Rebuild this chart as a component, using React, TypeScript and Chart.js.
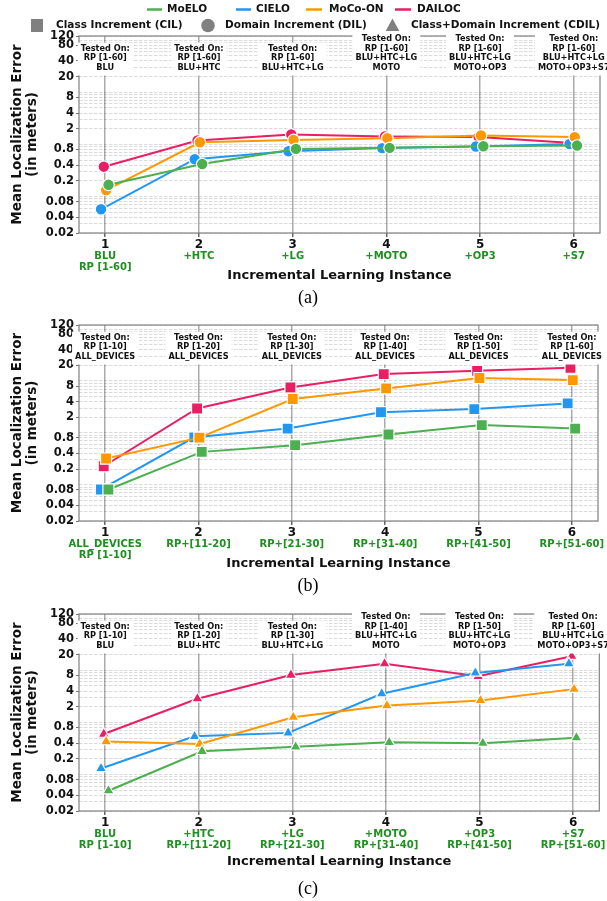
import React, { useEffect, useRef } from 'react';
import { Chart, registerables } from 'chart.js';

Chart.register(...registerables);

const FONT = "'DejaVu Sans', 'Liberation Sans', sans-serif";

// ---------- shared categories / ticks ----------
const instances = [1, 2, 3, 4, 5, 6];
const seriesNames = ['MoELO', 'CIELO', 'MoCo-ON', 'DAILOC'];
const seriesColors = ['#4CAF50', '#2196F3', '#FF9800', '#E91E63'];
const seriesDodge = [0.035, -0.045, 0.01, -0.015];
const drawOrder = [0, 2, 1, 3]; // first one is drawn on top
const incrementTypes = ['Class Increment (CIL)', 'Domain Increment (DIL)', 'Class+Domain Increment (CDIL)'];
const yGridValues = [
  0.02, 0.03, 0.04, 0.05, 0.06, 0.07, 0.08, 0.09,
  0.1, 0.2, 0.3, 0.4, 0.5, 0.6, 0.7, 0.8, 0.9,
  1, 2, 3, 4, 5, 6, 7, 8, 9,
  10, 20, 30, 40, 50, 60, 70, 80, 90, 100, 120,
];
const yTickLabels = [0.02, 0.04, 0.08, 0.2, 0.4, 0.8, 2, 4, 8, 20, 40, 80, 120];

// ---------- (a) Domain Increment ----------
const moeloA = [0.168, 0.42, 0.82, 0.86, 0.92, 0.95];
const cieloA = [0.057, 0.52, 0.74, 0.85, 0.91, 1.02];
const mocoA = [0.133, 1.1, 1.22, 1.32, 1.48, 1.38];
const dailocA = [0.374, 1.19, 1.55, 1.42, 1.38, 1.07];
const xLabelsA = ['BLU\nRP [1-60]', '+HTC', '+LG', '+MOTO', '+OP3', '+S7'];
const testedA = [
  'Tested On:\nRP [1-60]\nBLU',
  'Tested On:\nRP [1-60]\nBLU+HTC',
  'Tested On:\nRP [1-60]\nBLU+HTC+LG',
  'Tested On:\nRP [1-60]\nBLU+HTC+LG\nMOTO',
  'Tested On:\nRP [1-60]\nBLU+HTC+LG\nMOTO+OP3',
  'Tested On:\nRP [1-60]\nBLU+HTC+LG\nMOTO+OP3+S7',
];

// ---------- (b) Class Increment ----------
const moeloB = [0.081, 0.43, 0.58, 0.93, 1.41, 1.21];
const cieloB = [0.081, 0.82, 1.21, 2.5, 2.87, 3.7];
const mocoB = [0.32, 0.81, 4.5, 7.2, 11.4, 10.4];
const dailocB = [0.227, 2.95, 7.5, 13.6, 15.7, 18];
const xLabelsB = ['ALL_DEVICES\nRP [1-10]', 'RP+[11-20]', 'RP+[21-30]', 'RP+[31-40]', 'RP+[41-50]', 'RP+[51-60]'];
const testedB = [
  'Tested On:\nRP [1-10]\nALL_DEVICES',
  'Tested On:\nRP [1-20]\nALL_DEVICES',
  'Tested On:\nRP [1-30]\nALL_DEVICES',
  'Tested On:\nRP [1-40]\nALL_DEVICES',
  'Tested On:\nRP [1-50]\nALL_DEVICES',
  'Tested On:\nRP [1-60]\nALL_DEVICES',
];

// ---------- (c) Class+Domain Increment ----------
const moeloC = [0.049, 0.28, 0.34, 0.415, 0.4, 0.51];
const cieloC = [0.131, 0.54, 0.63, 3.55, 8.9, 13.4];
const mocoC = [0.43, 0.385, 1.26, 2.1, 2.64, 4.35];
const dailocC = [0.6, 2.85, 8.1, 13.4, 7.65, 18.6];
const xLabelsC = ['BLU\nRP [1-10]', '+HTC\nRP+[11-20]', '+LG\nRP+[21-30]', '+MOTO\nRP+[31-40]', '+OP3\nRP+[41-50]', '+S7\nRP+[51-60]'];
const testedC = [
  'Tested On:\nRP [1-10]\nBLU',
  'Tested On:\nRP [1-20]\nBLU+HTC',
  'Tested On:\nRP [1-30]\nBLU+HTC+LG',
  'Tested On:\nRP [1-40]\nBLU+HTC+LG\nMOTO',
  'Tested On:\nRP [1-50]\nBLU+HTC+LG\nMOTO+OP3',
  'Tested On:\nRP [1-60]\nBLU+HTC+LG\nMOTO+OP3+S7',
];

type PanelDef = {
  top: number; height: number; padTop: number; padBottom: number; axisH: number;
  titlePad: number; captionY: number; caption: string;
  pointStyle: string; radius: number;
  values: number[][]; green: string[]; tested: string[]; legend: boolean;
};

const PANELS: PanelDef[] = [
  { top: 0, height: 310, padTop: 36, padBottom: 20, axisH: 57, titlePad: 6.5, captionY: 298, caption: '(a)',
    pointStyle: 'circle', radius: 5.8, values: [moeloA, cieloA, mocoA, dailocA], green: xLabelsA, tested: testedA, legend: true },
  { top: 310, height: 288, padTop: 15, padBottom: 20, axisH: 57, titlePad: 6.9, captionY: 276, caption: '(b)',
    pointStyle: 'rect', radius: 7.8, values: [moeloB, cieloB, mocoB, dailocB], green: xLabelsB, tested: testedB, legend: false },
  { top: 598, height: 303, padTop: 16, padBottom: 24, axisH: 66, titlePad: 7.2, captionY: 291, caption: '(c)',
    pointStyle: 'triangle', radius: 6.5, values: [moeloC, cieloC, mocoC, dailocC], green: xLabelsC, tested: testedC, legend: false },
];

function drawLegend(ctx: CanvasRenderingContext2D) {
  ctx.font = `bold 10.5px ${FONT}`;
  ctx.textAlign = 'left';
  ctx.textBaseline = 'middle';
  const linePos = [[147, 162, 167], [236, 251, 256], [306, 322, 329], [395, 411, 417]];
  linePos.forEach(([x0, x1, tx], i) => {
    ctx.strokeStyle = seriesColors[i];
    ctx.lineWidth = 2.5;
    ctx.beginPath();
    ctx.moveTo(x0, 9.5);
    ctx.lineTo(x1, 9.5);
    ctx.stroke();
    ctx.fillStyle = '#111';
    ctx.fillText(seriesNames[i], tx, 9.5);
  });
  const y = 25.5;
  ctx.fillStyle = '#808080';
  ctx.fillRect(31, y - 6.5, 12, 13);
  ctx.beginPath();
  ctx.arc(208, y, 6.8, 0, Math.PI * 2);
  ctx.fill();
  ctx.beginPath();
  ctx.moveTo(392.5, y - 7);
  ctx.lineTo(399.3, y + 5.5);
  ctx.lineTo(385.7, y + 5.5);
  ctx.closePath();
  ctx.fill();
  ctx.fillStyle = '#111';
  ctx.fillText(incrementTypes[0], 56, y);
  ctx.fillText(incrementTypes[1], 225, y);
  ctx.fillText(incrementTypes[2], 411, y);
}

function decorPlugin(p: PanelDef) {
  return {
    id: 'decor',
    beforeDatasetsDraw(chart: any) {
      const { ctx, chartArea: a } = chart;
      ctx.save();
      ctx.strokeStyle = '#808080';
      ctx.lineWidth = 1.2;
      ctx.strokeRect(a.left, a.top, a.right - a.left, a.bottom - a.top);
      ctx.restore();
    },
    afterDraw(chart: any) {
      const { ctx, chartArea: a } = chart;
      const xs = chart.scales.x;
      ctx.save();
      ctx.textAlign = 'center';
      ctx.textBaseline = 'middle';
      // "Tested On" boxes
      ctx.font = `bold 8.2px ${FONT}`;
      const lh = 9.7;
      p.tested.forEach((t, i) => {
        const x = xs.getPixelForValue(instances[i]);
        const lines = t.split('\n');
        const lastY = a.top + 32;
        const firstY = lastY - (lines.length - 1) * lh;
        const w = Math.max(...lines.map((l) => ctx.measureText(l).width));
        ctx.fillStyle = '#ffffff';
        ctx.fillRect(x - w / 2 - 3, firstY - 6, w + 6, lastY - firstY + 13.5);
        ctx.fillStyle = '#111';
        lines.forEach((l, k) => ctx.fillText(l, x, firstY + k * lh));
      });
      // green x annotations
      ctx.font = `bold 10px ${FONT}`;
      ctx.fillStyle = '#1f8f1f';
      p.green.forEach((t, i) => {
        const x = xs.getPixelForValue(instances[i]);
        t.split('\n').forEach((l, k) => ctx.fillText(l, x, a.bottom + 23.5 + k * 11));
      });
      // caption
      ctx.font = `18px 'Liberation Serif', 'DejaVu Serif', serif`;
      ctx.fillStyle = '#000';
      ctx.fillText(p.caption, 308, p.captionY);
      if (p.legend) drawLegend(ctx);
      ctx.restore();
    },
  };
}

function buildConfig(p: PanelDef): any {
  const datasets = drawOrder.map((si) => ({
    label: seriesNames[si],
    data: p.values[si].map((v, i) => ({ x: instances[i] + seriesDodge[si], y: v })),
    borderColor: seriesColors[si],
    backgroundColor: seriesColors[si],
    borderWidth: 2,
    pointStyle: p.pointStyle,
    pointRadius: p.radius,
    pointBackgroundColor: seriesColors[si],
    pointBorderColor: '#ffffff',
    pointBorderWidth: 1.2,
    tension: 0,
    clip: false,
  }));
  return {
    type: 'line',
    data: { datasets },
    plugins: [decorPlugin(p)],
    options: {
      animation: false,
      responsive: false,
      devicePixelRatio: 1,
      layout: { padding: { top: p.padTop, bottom: p.padBottom, left: 0, right: 7 } },
      plugins: { legend: { display: false }, tooltip: { enabled: false }, title: { display: false } },
      scales: {
        x: {
          type: 'linear',
          min: 0.72,
          max: 6.28,
          afterBuildTicks: (s: any) => { s.ticks = instances.map((v) => ({ value: v })); },
          afterFit: (s: any) => { s.height = p.axisH; },
          ticks: {
            autoSkip: false,
            maxRotation: 0,
            padding: 1,
            color: '#111',
            font: { family: FONT, size: 12, weight: 'bold' },
            callback: (v: any) => String(v),
          },
          grid: { color: '#ababab', lineWidth: 1.5, drawTicks: true, tickLength: 4, tickColor: '#666' },
          border: { display: false, dash: [] },
          title: {
            display: true,
            text: 'Incremental Learning Instance',
            color: '#111',
            font: { family: FONT, size: 13, weight: 'bold', lineHeight: 1.2 },
            padding: { top: 0, bottom: p.titlePad },
          },
        },
        y: {
          type: 'logarithmic',
          position: 'left',
          min: 0.02,
          max: 120,
          afterBuildTicks: (s: any) => { s.ticks = yGridValues.map((v) => ({ value: v })); },
          afterFit: (s: any) => { s.width = 79; },
          ticks: {
            autoSkip: false,
            padding: 2,
            color: '#111',
            font: { family: FONT, size: 11.5, weight: 'bold' },
            callback: (v: any) => (yTickLabels.includes(v) ? String(v) : ''),
          },
          grid: {
            color: 'rgba(0,0,0,0.16)',
            lineWidth: 0.9,
            drawTicks: true,
            tickLength: 3,
            tickColor: (c: any) => (c.tick && yTickLabels.includes(c.tick.value) ? '#666' : 'rgba(0,0,0,0)'),
          },
          border: { display: false, dash: [3.5, 1.5] },
          title: {
            display: true,
            text: ['Mean Localization Error', '(in meters)'],
            color: '#111',
            font: { family: FONT, size: 13.5, weight: 'bold', lineHeight: 15 / 13.5 },
            padding: { top: 9.5, bottom: 0 },
          },
        },
      },
    },
  };
}

function Panel({ def }: { def: PanelDef }) {
  const ref = useRef<HTMLCanvasElement>(null);
  useEffect(() => {
    const chart = new Chart(ref.current as HTMLCanvasElement, buildConfig(def));
    return () => chart.destroy();
  }, [def]);
  return (
    <canvas
      ref={ref}
      width={607}
      height={def.height}
      style={{ position: 'absolute', left: 0, top: def.top, width: 607, height: def.height }}
    />
  );
}

export default function App() {
  return (
    <div style={{ position: 'absolute', left: 0, top: 0, width: 607, height: 901, background: '#fff', overflow: 'hidden' }}>
      {PANELS.map((p, i) => (
        <Panel key={i} def={p} />
      ))}
    </div>
  );
}
